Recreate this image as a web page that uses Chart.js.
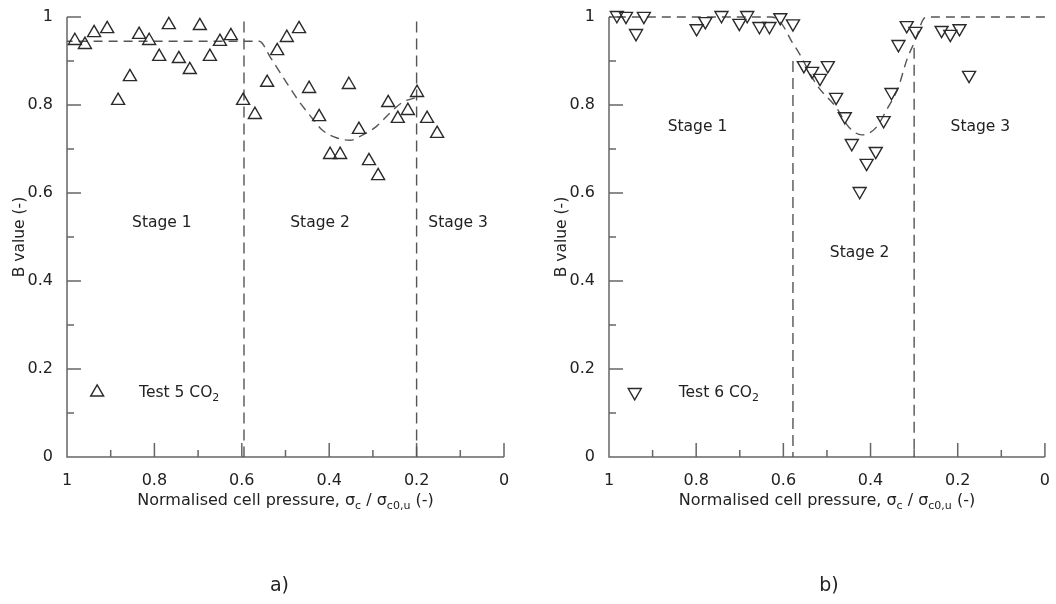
<!DOCTYPE html>
<html><head><meta charset="utf-8">
<script src="https://cdn.jsdelivr.net/npm/chart.js@4"></script>
<style>
html,body{margin:0;padding:0;background:#fff;}
#wrap{position:relative;width:1056px;height:604px;overflow:hidden;}
.cv{position:absolute;top:0;width:528px;height:604px;}
</style></head><body>
<div id="wrap">
<div class="cv" style="left:0"><canvas id="c1" width="528" height="604"></canvas></div>
<div class="cv" style="left:528px"><canvas id="c2" width="528" height="604"></canvas></div>
</div>
<script>
// ---------------- data ----------------
const xTickValues = [1, 0.8, 0.6, 0.4, 0.2, 0];
const yTickValues = [0, 0.2, 0.4, 0.6, 0.8, 1];
const minorTickValues = [0, 0.1, 0.2, 0.3, 0.4, 0.5, 0.6, 0.7, 0.8, 0.9, 1];

// Test 5 CO2 (panel a)
const test5X = [0.982, 0.959, 0.938, 0.908, 0.883, 0.856, 0.835, 0.812, 0.789, 0.767, 0.744, 0.719, 0.696, 0.673, 0.650, 0.625, 0.597, 0.570, 0.542, 0.519, 0.497, 0.469, 0.446, 0.423, 0.398, 0.375, 0.355, 0.332, 0.309, 0.288, 0.265, 0.243, 0.220, 0.199, 0.176, 0.153];
const test5Y = [0.946, 0.937, 0.964, 0.973, 0.810, 0.864, 0.960, 0.946, 0.910, 0.982, 0.905, 0.880, 0.980, 0.910, 0.944, 0.957, 0.810, 0.778, 0.851, 0.923, 0.953, 0.973, 0.837, 0.773, 0.687, 0.687, 0.846, 0.744, 0.673, 0.639, 0.805, 0.769, 0.787, 0.828, 0.769, 0.735];
const fit5X = [0.204, 0.231, 0.261, 0.291, 0.323, 0.352, 0.382, 0.416, 0.439, 0.471, 0.506, 0.535, 0.560, 1];
const fit5Y = [0.816, 0.807, 0.782, 0.752, 0.732, 0.720, 0.725, 0.743, 0.770, 0.811, 0.864, 0.909, 0.945, 0.945];
const stage5Bounds = [0.595, 0.2];

// Test 6 CO2 (panel b)
const test6X = [0.982, 0.961, 0.938, 0.920, 0.799, 0.779, 0.742, 0.701, 0.683, 0.655, 0.632, 0.607, 0.578, 0.553, 0.534, 0.516, 0.498, 0.479, 0.459, 0.443, 0.425, 0.409, 0.388, 0.370, 0.352, 0.336, 0.317, 0.297, 0.237, 0.217, 0.196, 0.174];
const test6Y = [1.004, 1.002, 0.963, 1.002, 0.974, 0.990, 1.004, 0.986, 1.004, 0.979, 0.979, 0.999, 0.985, 0.890, 0.877, 0.861, 0.890, 0.818, 0.774, 0.713, 0.604, 0.668, 0.695, 0.765, 0.829, 0.938, 0.981, 0.968, 0.970, 0.961, 0.974, 0.868];
const fit6X = [0, 0.265, 0.276, 0.297, 0.317, 0.336, 0.363, 0.388, 0.420, 0.450, 0.479, 0.523, 0.564, 0.580, 0.605, 0.628, 1];
const fit6Y = [1, 1, 0.998, 0.948, 0.902, 0.841, 0.789, 0.748, 0.732, 0.750, 0.795, 0.845, 0.918, 0.943, 0.986, 1, 1];
const stage6Bounds = [0.578, 0.30];

const stageNames = ['Stage 1', 'Stage 2', 'Stage 3'];

// ---------------- style ----------------
const FONT = '"DejaVu Sans", Verdana, sans-serif';
const TXT = '#222';
const AXIS = '#666';
const MARK = '#2a2a2a';
const DASH = '#555';

function pts(xs, ys) { return xs.map((x, i) => ({x: x, y: ys[i]})); }

function drawRich(ctx, parts, x, y, align, size) {
  const main = size + 'px ' + FONT, sub = Math.round(size * 0.68) + 'px ' + FONT;
  let w = 0;
  parts.forEach(p => { ctx.font = p[1] ? sub : main; w += ctx.measureText(p[0]).width; });
  let cx = align === 'center' ? x - w / 2 : x;
  ctx.textAlign = 'left';
  ctx.textBaseline = 'alphabetic';
  parts.forEach(p => {
    ctx.font = p[1] ? sub : main;
    ctx.fillText(p[0], cx, p[1] ? y + 4 : y);
    cx += ctx.measureText(p[0]).width;
  });
}

const decor = {
  id: 'decor',
  beforeDatasetsDraw(chart, args, o) {
    const ctx = chart.ctx, xs = chart.scales.x, ys = chart.scales.y;
    const xL = xs.getPixelForValue(1), xR = xs.getPixelForValue(0);
    const yB = ys.getPixelForValue(0), yT = ys.getPixelForValue(1);
    ctx.save();
    ctx.strokeStyle = AXIS; ctx.lineWidth = 1.5;
    ctx.beginPath();
    ctx.moveTo(xL, yT); ctx.lineTo(xL, yB); ctx.lineTo(xR, yB);
    minorTickValues.forEach((v, i) => {
      const len = (i % 2 === 0) ? 14 : 7;
      const py = ys.getPixelForValue(v);
      ctx.moveTo(xL, py); ctx.lineTo(xL + len, py);
      if (v !== 1) {
        const px = xs.getPixelForValue(v);
        ctx.moveTo(px, yB); ctx.lineTo(px, yB - len);
      }
    });
    ctx.stroke();
    ctx.restore();
  },
  afterDraw(chart, args, o) {
    const ctx = chart.ctx, xs = chart.scales.x, ys = chart.scales.y, ca = chart.chartArea;
    ctx.save();
    ctx.fillStyle = TXT;
    // stage labels
    ctx.font = '15.5px ' + FONT; ctx.textAlign = 'center'; ctx.textBaseline = 'middle';
    o.stages.forEach((s, i) => ctx.fillText(stageNames[i], xs.getPixelForValue(s[0]), ys.getPixelForValue(s[1])));
    // legend
    const lx = xs.getPixelForValue(o.legend.x), ly = ys.getPixelForValue(o.legend.y);
    ctx.strokeStyle = MARK; ctx.lineWidth = 1.4; ctx.fillStyle = 'rgba(0,0,0,0)';
    Chart.helpers.drawPoint(ctx, {pointStyle: 'triangle', radius: 7.5, rotation: o.rotation, borderWidth: 1.4}, lx, ly);
    ctx.fillStyle = TXT;
    drawRich(ctx, o.legend.parts, xs.getPixelForValue(o.legend.tx), ly + 5, 'left', 15.5);
    // x title
    drawRich(ctx, [['Normalised cell pressure, \u03c3', 0], ['c', 1], [' / \u03c3', 0], ['c0,u', 1], [' (-)', 0]],
      (ca.left + ca.right) / 2, ca.bottom + 48, 'center', 16);
    // panel label
    ctx.font = '19px ' + FONT; ctx.textAlign = 'center'; ctx.textBaseline = 'middle';
    ctx.fillText(o.panel, (ca.left + ca.right) / 2 + o.panelDx, 586);
    ctx.restore();
  }
};

function fmt(v) { return String(Number(v.toFixed(1))); }

function makeChart(id, cfg) {
  return new Chart(document.getElementById(id), {
    type: 'scatter',
    data: {
      datasets: [
        {data: pts(cfg.px, cfg.py), pointStyle: 'triangle', pointRadius: 7.5, pointRotation: cfg.rotation,
         borderColor: MARK, backgroundColor: 'rgba(0,0,0,0)', pointBorderWidth: 1.4, borderWidth: 1.4, showLine: false, clip: false},
        {data: pts(cfg.fx, cfg.fy), showLine: true, pointRadius: 0, borderColor: DASH, borderWidth: 1.4,
         borderDash: [9, 6], cubicInterpolationMode: 'monotone', fill: false, clip: false},
        {data: [{x: cfg.bounds[0], y: cfg.vTop[0]}, {x: cfg.bounds[0], y: 0}], showLine: true, pointRadius: 0,
         borderColor: DASH, borderWidth: 1.4, borderDash: [11, 6], clip: false},
        {data: [{x: cfg.bounds[1], y: cfg.vTop[1]}, {x: cfg.bounds[1], y: 0}], showLine: true, pointRadius: 0,
         borderColor: DASH, borderWidth: 1.4, borderDash: [11, 6], clip: false}
      ]
    },
    options: {
      responsive: false, animation: false, events: [],
      layout: {padding: cfg.padding},
      plugins: {legend: {display: false}, tooltip: {enabled: false}, decor: cfg.decor},
      scales: {
        x: {type: 'linear', min: 0, max: 1, reverse: true,
            grid: {display: false}, border: {display: false},
            afterBuildTicks: s => { s.ticks = xTickValues.map(v => ({value: v})); },
            ticks: {font: {family: FONT, size: 16}, color: TXT, padding: 6, maxRotation: 0, autoSkip: false, callback: v => fmt(v)},
            afterFit: s => { s.height = 30; }},
        y: {type: 'linear', min: 0, max: 1,
            grid: {display: false}, border: {display: false},
            afterBuildTicks: s => { s.ticks = yTickValues.map(v => ({value: v})); },
            ticks: {font: {family: FONT, size: 16}, color: TXT, padding: 6, autoSkip: false, callback: v => fmt(v)},
            title: {display: true, text: 'B value (-)', color: TXT, font: {family: FONT, size: 15.5}, padding: {top: 11, bottom: 0}},
            afterFit: s => { s.width = 67; }}
      }
    },
    plugins: [decor]
  });
}

makeChart('c1', {
  px: test5X, py: test5Y, fx: fit5X, fy: fit5Y, bounds: stage5Bounds, vTop: [0.99, 0.99], rotation: 0,
  padding: {left: 0, top: 17, right: 24, bottom: 117},
  decor: {rotation: 0, stages: [[0.783, 0.532], [0.421, 0.532], [0.105, 0.532]],
          legend: {x: 0.931, y: 0.147, tx: 0.835, parts: [['Test 5 CO', 0], ['2', 1]]},
          panel: 'a)', panelDx: -6}
});
makeChart('c2', {
  px: test6X, py: test6Y, fx: fit6X, fy: fit6Y, bounds: stage6Bounds, vTop: [0.90, 0.93], rotation: 180,
  padding: {left: 14, top: 17, right: 9, bottom: 117},
  decor: {rotation: 180, stages: [[0.797, 0.75], [0.425, 0.464], [0.148, 0.75]],
          legend: {x: 0.941, y: 0.147, tx: 0.84, parts: [['Test 6 CO', 0], ['2', 1]]},
          panel: 'b)', panelDx: 2}
});
</script>
</body></html>
